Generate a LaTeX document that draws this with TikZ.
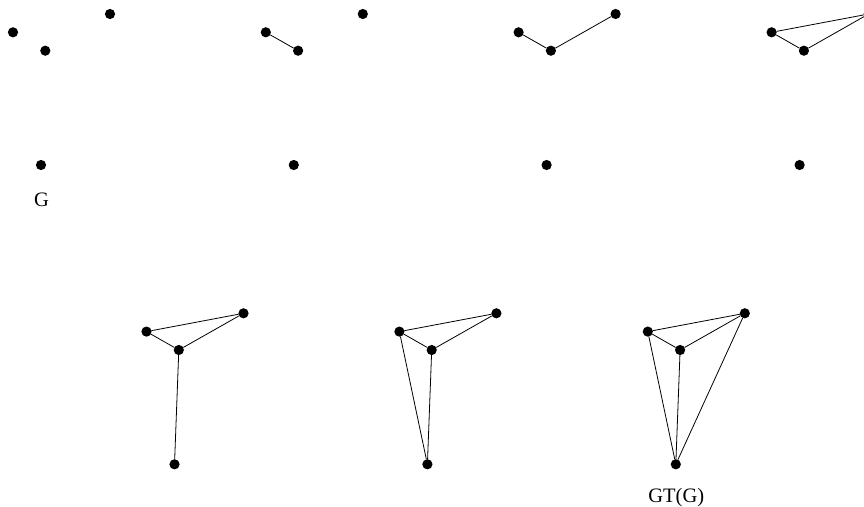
\documentclass[tikz,border=0pt]{standalone}
\usepackage{fontspec}
\setmainfont{Liberation Serif}

\begin{document}
\begin{tikzpicture}[
  x=1pt, y=-1pt,
  line cap=round, line join=round,
  vtx/.style={circle, fill=black, inner sep=0pt, minimum size=10.2pt},
  edge/.style={draw=black, line width=.8pt},
  lbl/.style={font=\fontsize{20.5}{24}\selectfont}
]
\useasboundingbox (0,0) rectangle (864,506);

% Top row: G and the first steps.
\begin{scope}[shift={(0,0)}]
  \node[vtx] (l1) at (13,32.3) {};
  \node[vtx] (m1) at (45.3,50.7) {};
  \node[vtx] (t1) at (110,14) {};
  \node[vtx] (b1) at (41,165) {};
  \node[lbl] (g1) at (41.5,200) {G};
\end{scope}

\begin{scope}[shift={(252.8,0)}]
  \node[vtx] (l2) at (13,32.3) {};
  \node[vtx] (m2) at (45.3,50.7) {};
  \node[vtx] (t2) at (110,14) {};
  \node[vtx] (b2) at (41,165) {};
  \draw[edge] (l2) -- (m2);
\end{scope}

\begin{scope}[shift={(505.6,0)}]
  \node[vtx] (l3) at (13,32.3) {};
  \node[vtx] (m3) at (45.3,50.7) {};
  \node[vtx] (t3) at (110,14) {};
  \node[vtx] (b3) at (41,165) {};
  \draw[edge] (l3) -- (m3);
  \draw[edge] (m3) -- (t3);
\end{scope}

\begin{scope}[shift={(758.6,0)}]
  \node[vtx] (l4) at (13,32.3) {};
  \node[vtx] (m4) at (45.3,50.7) {};
  \node[vtx] (t4) at (110,14) {};
  \node[vtx] (b4) at (41,165) {};
  \draw[edge] (l4) -- (m4);
  \draw[edge] (m4) -- (t4);
  \draw[edge] (l4) -- (t4);
\end{scope}

% Bottom row: the bottom vertex gets joined in.
\begin{scope}[shift={(133.5,299.3)}]
  \node[vtx] (l5) at (13,32.3) {};
  \node[vtx] (m5) at (45.3,50.7) {};
  \node[vtx] (t5) at (110,14) {};
  \node[vtx] (b5) at (41,165) {};
  \draw[edge] (l5) -- (m5);
  \draw[edge] (m5) -- (t5);
  \draw[edge] (l5) -- (t5);
  \draw[edge] (m5) -- (b5);
\end{scope}

\begin{scope}[shift={(386.4,299.3)}]
  \node[vtx] (l6) at (13,32.3) {};
  \node[vtx] (m6) at (45.3,50.7) {};
  \node[vtx] (t6) at (110,14) {};
  \node[vtx] (b6) at (41,165) {};
  \draw[edge] (l6) -- (m6);
  \draw[edge] (m6) -- (t6);
  \draw[edge] (l6) -- (t6);
  \draw[edge] (m6) -- (b6);
  \draw[edge] (l6) -- (b6);
\end{scope}

\begin{scope}[shift={(634.8,299.3)}]
  \node[vtx] (l7) at (13,32.3) {};
  \node[vtx] (m7) at (45.3,50.7) {};
  \node[vtx] (t7) at (110,14) {};
  \node[vtx] (b7) at (41,165) {};
  \draw[edge] (l7) -- (m7);
  \draw[edge] (m7) -- (t7);
  \draw[edge] (l7) -- (t7);
  \draw[edge] (m7) -- (b7);
  \draw[edge] (l7) -- (b7);
  \draw[edge] (t7) -- (b7);
  \node[lbl] (g7) at (41.5,198) {GT(G)};
\end{scope}
\end{tikzpicture}
\end{document}
